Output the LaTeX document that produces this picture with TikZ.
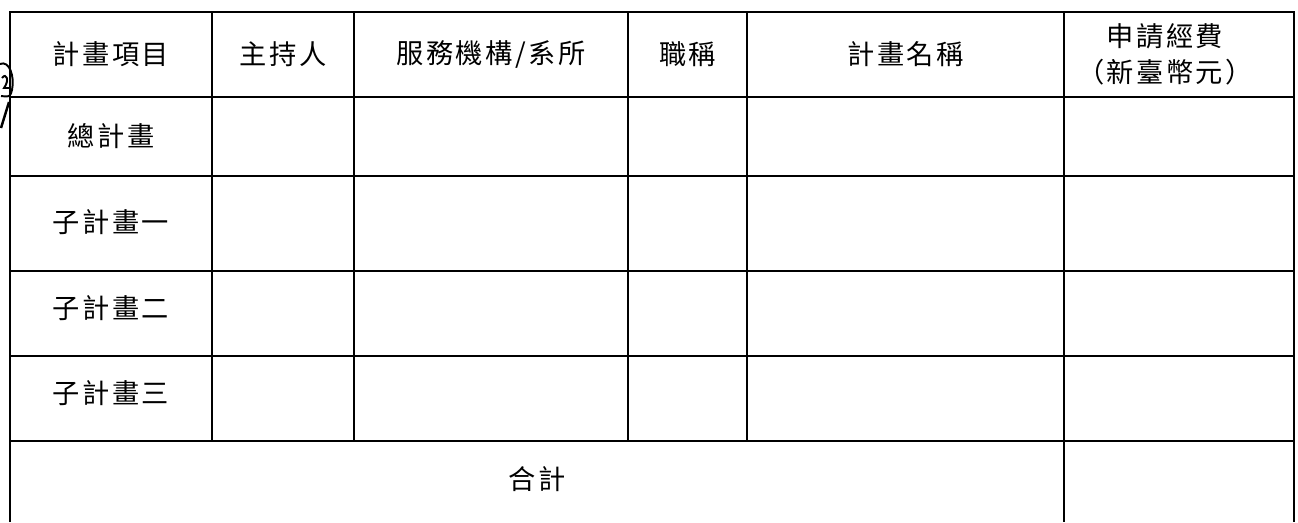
\documentclass[tikz,border=0pt]{standalone}
\usepackage{fontspec}
\usepackage{tikz}
\usetikzlibrary{positioning, calc}
\newfontfamily\cjk[LetterSpace=9]{Noto Sans CJK TC}
\tikzset{
  cell/.style = {font=\cjk\fontsize{15.5}{20.5}\selectfont, align=center, inner sep=0pt},
  rule/.style = {line width=1.6pt}
}

\begin{document}
\begin{tikzpicture}[x=0.02cm, y=-0.02cm]
                \useasboundingbox (0,0) rectangle (1298,522);
                % frame, open at the bottom
                \draw[rule] (10,522) -- (10,12) -- (1294,12) -- (1294,522);
                \foreach \xc in {212,354,628,747} \draw[rule] (\xc,12) -- (\xc,441);
                \draw[rule] (1064,12) -- (1064,522);
                \foreach \yc in {97,176,271,356,441} \draw[rule] (10,\yc) -- (1294,\yc);
                % header row
                \node[cell] (hItem) at (111,54) {計畫項目};
                \node[cell] (hPI) at (283,54) {主持人};
                \node[cell] (hDept) at (491,54) {服務機構/系所};
                \node[cell] (hTitle) at (687.5,54) {職稱};
                \node[cell] (hName) at (905.5,54) {計畫名稱};
                \node[cell] (hFund) at (1165,54) {申請經費\\（新臺幣元）};
                % first column
                \node[cell] (rMain) at (111,136.5) {總計畫};
                \node[cell] (rSubA) at (111,222) {子計畫一};
                \node[cell] (rSubB) at (111,308) {子計畫二};
                \node[cell] (rSubC) at (111,393) {子計畫三};
                \node[cell] (rSum) at (537,479) {合計};
                % mark on the left edge
                \draw[line width=1.1pt] (0,64) .. controls (9,60) and (15,76) .. (12,90) .. controls (10,97) .. (1,96);
                \draw[line width=1.1pt] (2,78) .. controls (6,72) and (10,80) .. (4,88) -- (9,88);
                \draw[line width=1.4pt] (9,102) -- (1,128);
\end{tikzpicture}
\end{document}
